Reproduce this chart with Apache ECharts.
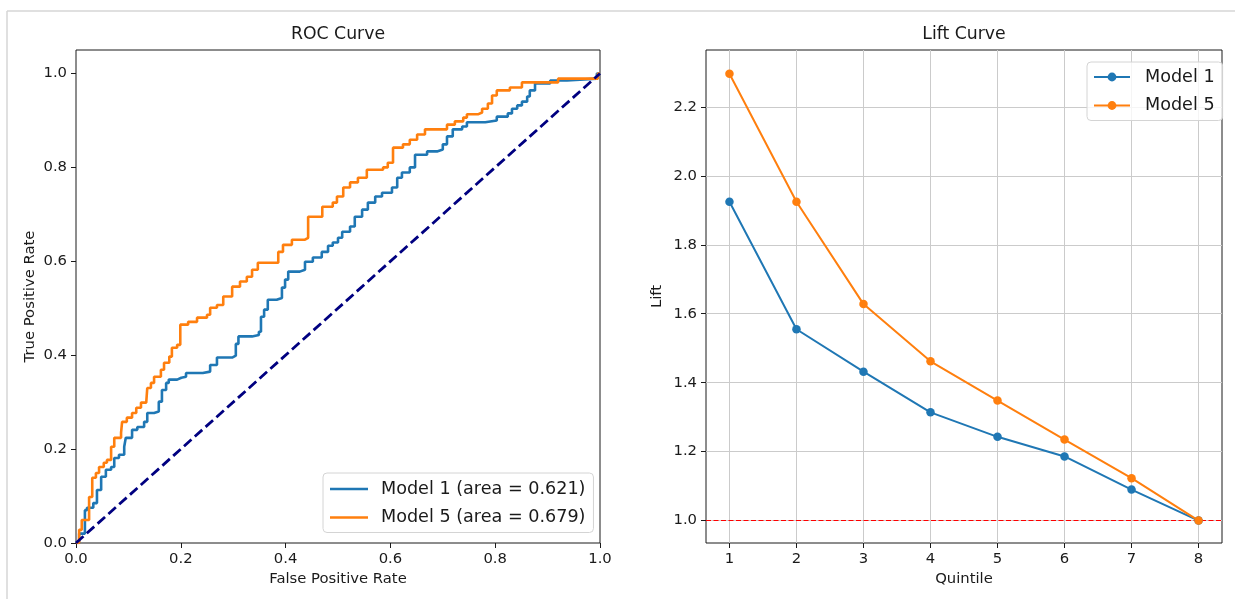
<!DOCTYPE html>
<html>
<head>
<meta charset="utf-8">
<script src="https://cdn.jsdelivr.net/npm/echarts@6/dist/echarts.min.js"></script>
<style>
html, body { margin: 0; padding: 0; background: #fff; }
#chart { width: 1235px; height: 599px; }
</style>
</head>
<body>
<div id="chart"></div>
<script>
// ROC points (false positive rate / true positive rate)
const m1Fpr = [0, 0.006, 0.017, 0.021, 0.033, 0.040, 0.048, 0.057, 0.067, 0.073, 0.082, 0.092, 0.095, 0.107, 0.117, 0.130, 0.136, 0.149, 0.158, 0.164, 0.172, 0.177, 0.193, 0.201, 0.210, 0.242, 0.256, 0.269, 0.298, 0.305, 0.310, 0.336, 0.349, 0.353, 0.359, 0.366, 0.383, 0.393, 0.399, 0.405, 0.427, 0.437, 0.452, 0.469, 0.481, 0.490, 0.500, 0.508, 0.523, 0.532, 0.546, 0.557, 0.571, 0.584, 0.603, 0.613, 0.622, 0.637, 0.647, 0.670, 0.689, 0.700, 0.708, 0.719, 0.737, 0.746, 0.781, 0.803, 0.824, 0.832, 0.842, 0.851, 0.861, 0.866, 0.876, 0.901, 0.905, 0.937, 0.994, 1.0]
const m1Tpr = [0, 0.020, 0.070, 0.075, 0.085, 0.113, 0.141, 0.156, 0.162, 0.181, 0.188, 0.205, 0.224, 0.241, 0.247, 0.258, 0.277, 0.280, 0.301, 0.326, 0.341, 0.348, 0.352, 0.354, 0.362, 0.365, 0.379, 0.395, 0.399, 0.424, 0.440, 0.443, 0.450, 0.482, 0.497, 0.518, 0.522, 0.544, 0.561, 0.578, 0.582, 0.599, 0.608, 0.620, 0.633, 0.640, 0.650, 0.663, 0.674, 0.695, 0.710, 0.725, 0.738, 0.746, 0.757, 0.778, 0.789, 0.800, 0.827, 0.834, 0.838, 0.849, 0.866, 0.881, 0.887, 0.896, 0.900, 0.908, 0.915, 0.925, 0.932, 0.940, 0.951, 0.964, 0.979, 0.979, 0.985, 0.989, 1.0, 1.0]
const m5Fpr = [0, 0.006, 0.011, 0.025, 0.031, 0.038, 0.044, 0.053, 0.059, 0.067, 0.073, 0.086, 0.088, 0.097, 0.107, 0.115, 0.124, 0.134, 0.136, 0.143, 0.149, 0.162, 0.168, 0.178, 0.183, 0.193, 0.199, 0.214, 0.231, 0.250, 0.256, 0.269, 0.281, 0.298, 0.313, 0.326, 0.336, 0.347, 0.386, 0.395, 0.412, 0.437, 0.443, 0.470, 0.490, 0.498, 0.510, 0.523, 0.538, 0.555, 0.586, 0.595, 0.605, 0.624, 0.637, 0.651, 0.666, 0.708, 0.723, 0.739, 0.746, 0.767, 0.775, 0.786, 0.794, 0.803, 0.828, 0.851, 0.920, 0.996, 1.0]
const m5Tpr = [0, 0.028, 0.049, 0.098, 0.139, 0.149, 0.162, 0.171, 0.177, 0.205, 0.224, 0.235, 0.258, 0.267, 0.277, 0.288, 0.299, 0.301, 0.330, 0.341, 0.354, 0.369, 0.384, 0.397, 0.416, 0.422, 0.465, 0.471, 0.480, 0.486, 0.501, 0.507, 0.525, 0.546, 0.557, 0.567, 0.582, 0.597, 0.620, 0.635, 0.646, 0.650, 0.695, 0.716, 0.725, 0.738, 0.757, 0.768, 0.778, 0.795, 0.800, 0.810, 0.842, 0.849, 0.859, 0.870, 0.881, 0.891, 0.898, 0.906, 0.913, 0.917, 0.925, 0.936, 0.953, 0.964, 0.970, 0.981, 0.989, 1.0, 1.0]
const chanceFpr = [0, 1]
const chanceTpr = [0, 1]
const aucs = [0.621, 0.679]
const rocTicks = [0, 0.2, 0.4, 0.6, 0.8, 1.0]

// lift per quintile
const quintiles = [1, 2, 3, 4, 5, 6, 7, 8]
const m1Lift = [1.925, 1.555, 1.432, 1.314, 1.243, 1.186, 1.090, 1.0]
const m5Lift = [2.296, 1.925, 1.628, 1.462, 1.348, 1.235, 1.123, 1.0]
const liftTicks = [1.0, 1.2, 1.4, 1.6, 1.8, 2.0, 2.2]
const baseline = 1.0

const font = 'DejaVu Sans'
const ink = '#1a1a1a'
const blue = '#1f77b4'
const orange = '#ff7f0e'

function pairs(xs, ys) { return xs.map((x, i) => [x, ys[i]]) }

const rocNames = ['Model 1', 'Model 5'].map((n, i) => n + ' (area = ' + aucs[i].toFixed(3) + ')')

const chart = echarts.init(document.getElementById('chart'), null, {renderer: 'canvas'})

const axisText = { fontSize: 14.8, color: ink, fontFamily: font }
const tick = { show: true, length: 5, lineStyle: { color: ink, width: 1 }}
const titleText = { fontSize: 17.3, fontWeight: 'normal', color: ink, fontFamily: font }

chart.setOption({
    animation: false,
    textStyle: { fontFamily: font, color: ink },
    title: [
        { text: 'ROC Curve', left: 338, top: 26, textAlign: 'center', padding: 0, textStyle: titleText },
        { text: 'Lift Curve', left: 964, top: 26, textAlign: 'center', padding: 0, textStyle: titleText },
    ],
    graphic: [
        { type: 'line', silent: true, shape: { x1: 7, y1: 11, x2: 1235, y2: 11 }, style: { stroke: '#d6d6d6', lineWidth: 1.5 }},
        { type: 'line', silent: true, shape: { x1: 7, y1: 11, x2: 7, y2: 599 }, style: { stroke: '#d6d6d6', lineWidth: 1.5 }},
    ],
    grid: [
        { left: 76, top: 50, width: 524, height: 493, show: true, borderColor: ink, borderWidth: 1 },
        { left: 706, top: 50, width: 516, height: 493, show: true, borderColor: ink, borderWidth: 1 },
    ],
    legend: [
        {
            data: rocNames, orient: 'vertical', left: 323, top: 473,
            icon: 'rect', itemWidth: 38, itemHeight: 2.6,
            padding: [7, 8, 6, 7], itemGap: 10.5,
            borderColor: '#d4d4d4', borderWidth: 1, borderRadius: 4,
            backgroundColor: 'rgba(255,255,255,0.8)',
            textStyle: { fontSize: 17.6, color: ink, fontFamily: font, padding: [0, 0, 0, 8] },
        },
        {
            data: ['Model 1', 'Model 5'], orient: 'vertical', left: 1087, top: 62,
            padding: [6, 8, 6, 6], itemGap: 10.5, itemWidth: 36, itemHeight: 11,
            borderColor: '#d4d4d4', borderWidth: 1, borderRadius: 4,
            backgroundColor: 'rgba(255,255,255,0.8)',
            textStyle: { fontSize: 17.6, color: ink, fontFamily: font, padding: [0, 0, 0, 10] },
        },
    ],
    xAxis: [
        {
            gridIndex: 0, type: 'value', min: 0, max: 1, interval: 0.2,
            name: 'False Positive Rate', nameLocation: 'middle', nameGap: 27, nameTextStyle: axisText,
            axisLine: { show: false }, axisTick: tick, splitLine: { show: false },
            axisLabel: Object.assign({ margin: 9, formatter: v => v.toFixed(1) }, axisText),
        },
        {
            gridIndex: 1, type: 'value', min: 0.65, max: 8.35,
            name: 'Quintile', nameLocation: 'middle', nameGap: 27, nameTextStyle: axisText,
            axisLine: { show: false },
            axisTick: Object.assign({ customValues: quintiles }, tick),
            splitLine: { show: true, lineStyle: { color: '#cbcbcb', width: 1 }},
            axisLabel: Object.assign({ margin: 9, customValues: quintiles, formatter: v => String(v) }, axisText),
        },
    ],
    yAxis: [
        {
            gridIndex: 0, type: 'value', min: 0, max: 1.05,
            name: 'True Positive Rate', nameLocation: 'middle', nameGap: 38, nameTextStyle: axisText,
            axisLine: { show: false },
            axisTick: Object.assign({ customValues: rocTicks }, tick),
            splitLine: { show: false },
            axisLabel: Object.assign({ margin: 9, customValues: rocTicks, formatter: v => v.toFixed(1) }, axisText),
        },
        {
            gridIndex: 1, type: 'value', min: 0.935, max: 2.365,
            name: 'Lift', nameLocation: 'middle', nameGap: 41, nameTextStyle: axisText,
            axisLine: { show: false },
            axisTick: Object.assign({ customValues: liftTicks }, tick),
            splitLine: { show: true, lineStyle: { color: '#cbcbcb', width: 1 }},
            axisLabel: Object.assign({ margin: 9, customValues: liftTicks, formatter: v => v.toFixed(1) }, axisText),
        },
    ],
    series: [
        {
            name: rocNames[0], type: 'line', xAxisIndex: 0, yAxisIndex: 0, step: 'end',
            data: pairs(m1Fpr, m1Tpr), symbol: 'none', color: blue,
            lineStyle: { width: 2.6, color: blue },
        },
        {
            name: rocNames[1], type: 'line', xAxisIndex: 0, yAxisIndex: 0, step: 'end',
            data: pairs(m5Fpr, m5Tpr), symbol: 'none', color: orange,
            lineStyle: { width: 2.6, color: orange },
        },
        {
            name: 'chance', type: 'line', xAxisIndex: 0, yAxisIndex: 0,
            data: pairs(chanceFpr, chanceTpr), symbol: 'none', color: '#000080',
            lineStyle: { width: 2.8, color: '#000080', type: [10, 4.5] },
        },
        {
            name: 'Model 1', type: 'line', xAxisIndex: 1, yAxisIndex: 1,
            data: pairs(quintiles, m1Lift), symbol: 'circle', symbolSize: 8.5, color: blue,
            lineStyle: { width: 2, color: blue }, itemStyle: { color: blue },
            markLine: {
                silent: true, symbol: 'none', label: { show: false }, z: 1,
                lineStyle: { color: '#ff0000', width: 1.2, type: [5, 2.5] },
                data: [{ yAxis: baseline }],
            },
        },
        {
            name: 'Model 5', type: 'line', xAxisIndex: 1, yAxisIndex: 1,
            data: pairs(quintiles, m5Lift), symbol: 'circle', symbolSize: 8.5, color: orange,
            lineStyle: { width: 2, color: orange }, itemStyle: { color: orange },
        },
    ],
})
</script>
</body>
</html>
